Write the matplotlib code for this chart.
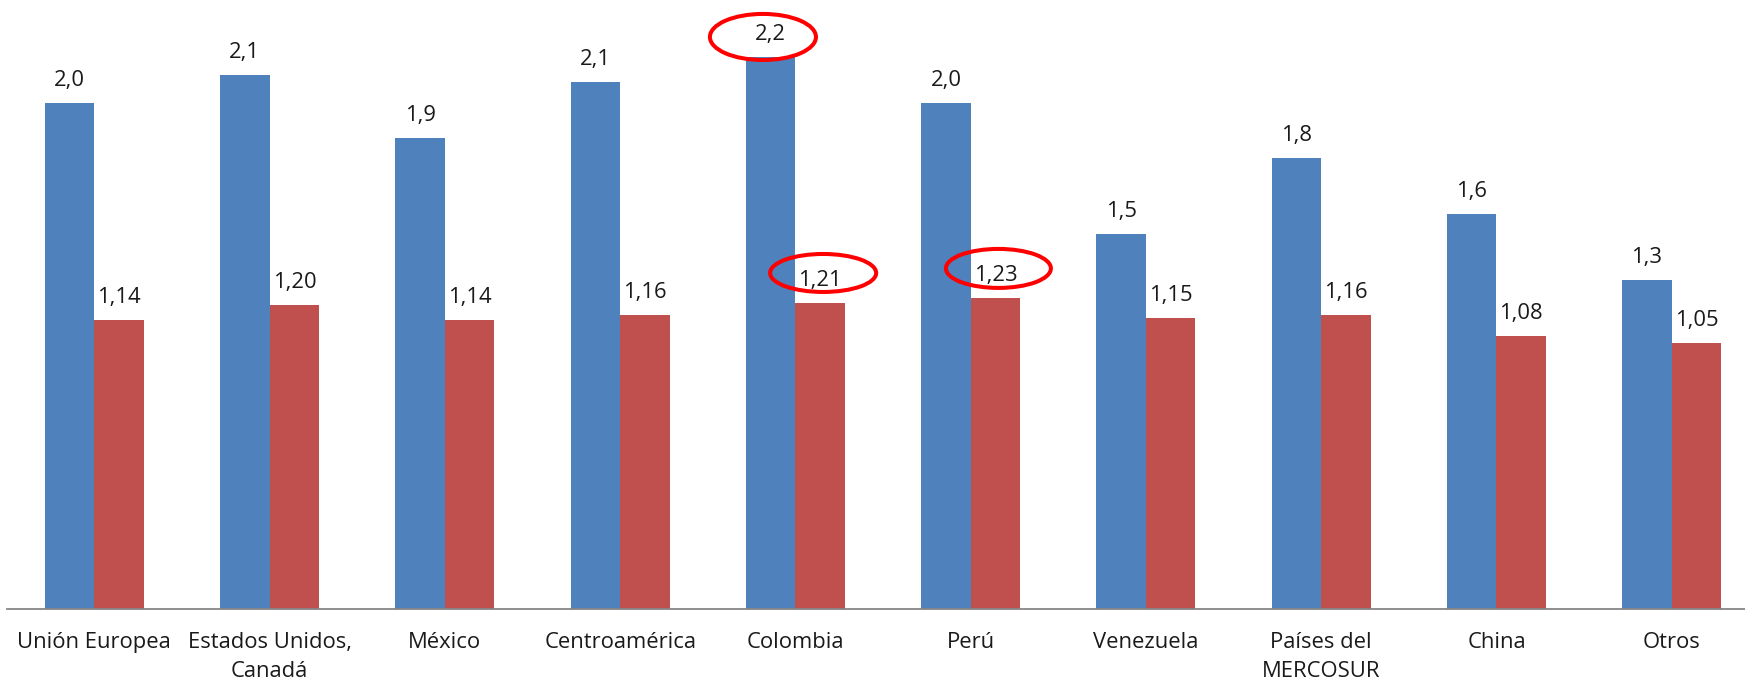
import matplotlib
matplotlib.use("Agg")
import matplotlib.pyplot as plt
from matplotlib.patches import Ellipse
import numpy as np

categories = ["Unión Europea", "Estados Unidos,\nCanadá", "México", "Centroamérica",
              "Colombia", "Perú", "Venezuela", "Países del\nMERCOSUR", "China", "Otros"]
serie_azul = [2.00, 2.11, 1.86, 2.08, 2.18, 2.00, 1.48, 1.78, 1.56, 1.30]
serie_roja = [1.14, 1.20, 1.14, 1.16, 1.21, 1.23, 1.15, 1.16, 1.08, 1.05]
# highlighted labels: (category index, series 0=blue / 1=red)
destacados = [(4, 0), (4, 1), (5, 1)]

BLUE = "#4F81BD"
RED = "#C0504D"
FONT = "Open Sans"
FS = 15.8

fig = plt.figure(figsize=(17.45, 6.82), dpi=100)
ax = fig.add_axes([6.7 / 1745, 73 / 682, 1 - 6.7 / 1745, 609 / 682])

x = np.arange(len(categories))
w = 0.2825
b1 = ax.bar(x - w / 2, serie_azul, width=w, color=BLUE, linewidth=0)
b2 = ax.bar(x + w / 2, serie_roja, width=w, color=RED, linewidth=0)

for xi, v in zip(x - w / 2, serie_azul):
    ax.annotate(f"{v:.1f}".replace(".", ","), (xi, v), xytext=(0, 12.2),
                textcoords="offset points", ha="center", va="baseline",
                fontsize=FS, family=FONT, color="#1a1a1a")
for xi, v in zip(x + w / 2, serie_roja):
    ax.annotate(f"{v:.2f}".replace(".", ","), (xi, v), xytext=(0, 12.2),
                textcoords="offset points", ha="center", va="baseline",
                fontsize=FS, family=FONT, color="#1a1a1a")

ell_shape = {0: (-0.044, 0.079, 0.605, 0.182), 1: (0.017, 0.117, 0.605, 0.150)}
for i, s in destacados:
    vals = serie_azul if s == 0 else serie_roja
    cx = x[i] + (-w / 2 if s == 0 else w / 2)
    dx, dy, ew, eh = ell_shape[s]
    if (i, s) == (5, 1):
        dy, eh, ew = 0.115, 0.154, 0.599
    ax.add_patch(Ellipse((cx + dx, vals[i] + dy), ew, eh, fill=False,
                         edgecolor="#FF0000", linewidth=2.9, clip_on=False, zorder=5))

ax.set_xlim(-0.5, 9.418)
ax.set_ylim(0, 2.405)
ax.set_xticks(x)
ax.set_xticklabels(categories, fontsize=FS, family=FONT, color="#1a1a1a", linespacing=1.5)
ax.tick_params(axis="x", length=0, pad=16.5)
ax.set_yticks([])
for sp in ["top", "right", "left"]:
    ax.spines[sp].set_visible(False)
ax.spines["bottom"].set_color("#868686")
ax.spines["bottom"].set_linewidth(1.3)

fig.savefig("out.png", dpi=100)
